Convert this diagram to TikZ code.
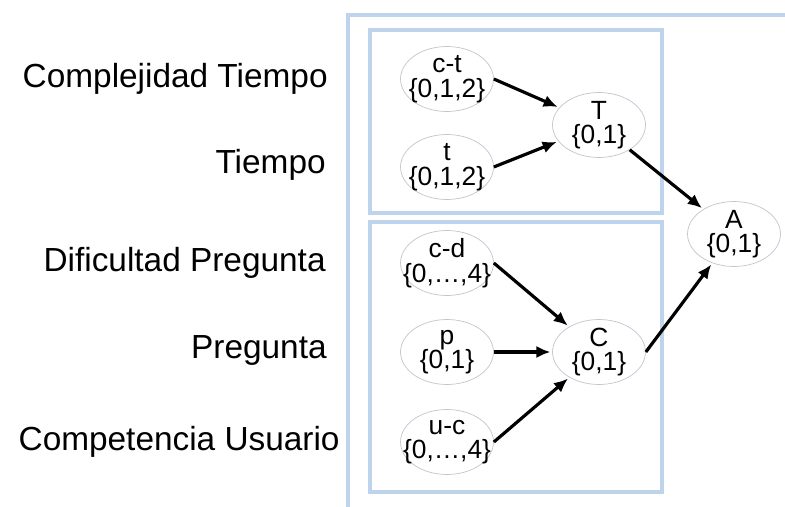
\documentclass[tikz,border=0pt]{standalone}
\usepackage{fontspec}
\setmainfont{Liberation Sans}
\usepackage{tikz}
\usetikzlibrary{arrows.meta,shapes.geometric,positioning}
\definecolor{boxblue}{RGB}{190,212,236}
\definecolor{ovalgray}{RGB}{192,197,206}

\begin{document}
\begin{tikzpicture}
%defines
  [x=0.02cm,y=-0.02cm,
var/.style={ellipse,draw=ovalgray,thin,fill=white,
inner xsep=-8pt,inner ysep=-4pt,minimum width=1.86cm,minimum height=1.3cm,
align=center,font=\fontsize{15}{14}\selectfont},
label/.style={anchor=east,inner sep=0pt,font=\fontsize{19}{22}\selectfont},
group/.style={draw=boxblue,line width=2pt},
link/.style={-{Latex[length=8pt,width=7pt]},line width=1.8pt,shorten >=1pt}]
\useasboundingbox (0,0) rectangle (785,507);
% boxes
\draw[group] (785,15) -- (348,15) -- (348,507);
\draw[group] (370,30) rectangle (662,213);
\draw[group] (370,222) rectangle (662,492);
% labels
\node[label] (l ct) at (328,79) {Complejidad Tiempo};
\node[label] (l t) at (326,165) {Tiempo};
\node[label] (l cd) at (326,263) {Dificultad Pregunta};
\node[label] (l p) at (327,350) {Pregunta};
\node[label] (l uc) at (340,442) {Competencia Usuario};
% variables
\node[var] (ct) at (447,79) {c-t\\\{0,1,2\}};
\node[var] (t) at (447,167) {t\\\{0,1,2\}};
\node[var] (cd) at (447,263) {c-d\\\{0,\dots,4\}};
\node[var] (p) at (447,352) {p\\\{0,1\}};
\node[var] (uc) at (447,442) {u-c\\\{0,\dots,4\}};
\node[var] (T) at (599,125) {T\\\{0,1\}};
\node[var] (C) at (599,352) {C\\\{0,1\}};
\node[var] (A) at (734,234) {A\\\{0,1\}};
% links
\draw[link] (ct.east) -- (T);
\draw[link] (t.east) -- (T);
\draw[link] (T) -- (A);
\draw[link] (cd.east) -- (C);
\draw[link] (p) -- (C);
\draw[link] (uc.east) -- (C);
\draw[link] (C.east) -- (A);
\end{tikzpicture}
\end{document}
